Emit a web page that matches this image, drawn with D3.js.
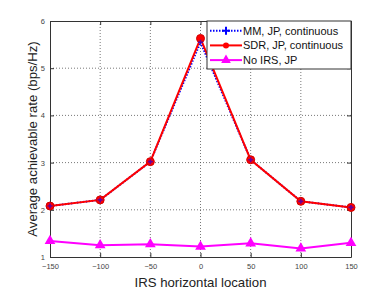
<!DOCTYPE html>
<html>
<head>
<meta charset="utf-8">
<script src="https://d3js.org/d3.v7.min.js"></script>
<style>
  body { margin: 0; background: #fff; }
  text { font-family: "Liberation Sans", Arial, sans-serif; }
</style>
</head>
<body>
<div id="chart"></div>
<script>
// data
var locations = [-150, -100, -50, 0, 50, 100, 150];
var mmRate = [2.08, 2.21, 3.02, 5.55, 3.06, 2.18, 2.05];
var sdrRate = [2.08, 2.21, 3.02, 5.63, 3.06, 2.18, 2.05];
var noIrsRate = [1.34, 1.25, 1.27, 1.22, 1.29, 1.18, 1.30];
var xTicks = [-150, -100, -50, 0, 50, 100, 150];
var yTicks = [1, 2, 3, 4, 5, 6];

var svgWidth = 388;
var svgHeight = 294;
var margin = { top: 21, right: 37, bottom: 37, left: 50 };
var chartWidth = svgWidth - margin.left - margin.right;
var chartHeight = svgHeight - margin.top - margin.bottom;

var svg = d3.select("#chart")
  .append("svg")
  .attr("width", svgWidth)
  .attr("height", svgHeight);

var chartGroup = svg.append("g")
  .attr("transform", `translate(${margin.left}, ${margin.top})`);

var x = d3.scaleLinear().domain([-150, 150]).range([0, chartWidth]);
var y = d3.scaleLinear().domain([1, 6]).range([chartHeight, 0]);

// grid
chartGroup.append("g")
  .selectAll("line")
  .data(xTicks.slice(1, -1))
  .enter().append("line")
  .attr("x1", d => x(d)).attr("x2", d => x(d))
  .attr("y1", 0).attr("y2", chartHeight)
  .attr("stroke", "#555").attr("stroke-width", 0.8)
  .attr("stroke-dasharray", "1,2");

chartGroup.append("g")
  .selectAll("line")
  .data(yTicks.slice(1, -1))
  .enter().append("line")
  .attr("y1", d => y(d)).attr("y2", d => y(d))
  .attr("x1", 0).attr("x2", chartWidth)
  .attr("stroke", "#555").attr("stroke-width", 0.8)
  .attr("stroke-dasharray", "1,2");

// axes (ticks inward)
var bottomAxis = d3.axisBottom(x).tickValues(xTicks).tickFormat(d3.format("d"))
  .tickSizeInner(-4).tickSizeOuter(0).tickPadding(7);
var leftAxis = d3.axisLeft(y).tickValues(yTicks).tickFormat(d3.format("d"))
  .tickSizeInner(-4).tickSizeOuter(0).tickPadding(5);
var topAxis = d3.axisTop(x).tickValues(xTicks).tickSizeInner(-4).tickSizeOuter(0).tickFormat("");
var rightAxis = d3.axisRight(y).tickValues(yTicks).tickSizeInner(-4).tickSizeOuter(0).tickFormat("");

var gx = chartGroup.append("g").attr("transform", `translate(0, ${chartHeight})`).call(bottomAxis);
var gy = chartGroup.append("g").call(leftAxis);
var gt = chartGroup.append("g").call(topAxis);
var gr = chartGroup.append("g").attr("transform", `translate(${chartWidth}, 0)`).call(rightAxis);

[gx, gy, gt, gr].forEach(function(g) {
  g.select(".domain").attr("stroke", "#333");
  g.selectAll(".tick line").attr("stroke", "#333");
  g.selectAll(".tick text").attr("fill", "#444").attr("font-size", "7.5px")
    .attr("font-family", "Liberation Sans, Arial, sans-serif");
});

// lines
var line = d3.line()
  .x((d, i) => x(locations[i]))
  .y(d => y(d));

chartGroup.append("path")
  .datum(noIrsRate)
  .attr("d", line)
  .attr("fill", "none")
  .attr("stroke", "#ff00ff")
  .attr("stroke-width", 2);

chartGroup.append("g")
  .selectAll("path")
  .data(noIrsRate)
  .enter().append("path")
  .attr("d", d3.symbol().type(d3.symbolTriangle).size(50))
  .attr("transform", (d, i) => `translate(${x(locations[i])}, ${y(d)})`)
  .attr("fill", "#ff00ff");

chartGroup.append("path")
  .datum(mmRate)
  .attr("d", line)
  .attr("fill", "none")
  .attr("stroke", "#0000ff")
  .attr("stroke-width", 2)
  .attr("stroke-dasharray", "1.5,1.5");

chartGroup.append("path")
  .datum(sdrRate)
  .attr("d", line)
  .attr("fill", "none")
  .attr("stroke", "#ff0000")
  .attr("stroke-width", 2);

chartGroup.append("g")
  .selectAll("circle")
  .data(sdrRate)
  .enter().append("circle")
  .attr("cx", (d, i) => x(locations[i]))
  .attr("cy", d => y(d))
  .attr("r", 4)
  .attr("fill", "#ff0000")
  .attr("stroke", "#d00000")
  .attr("stroke-width", 1);

chartGroup.append("g")
  .selectAll("path")
  .data(mmRate)
  .enter().append("path")
  .attr("d", d3.symbol().type(d3.symbolCross).size(14))
  .attr("transform", (d, i) => `translate(${x(locations[i])}, ${y(d)})`)
  .attr("fill", "#0000ff")
  .attr("opacity", 0.6);

// legend
var legendItems = [
  { name: "MM, JP, continuous", color: "#0000ff", dash: "1.5,1.5", marker: "plus" },
  { name: "SDR, JP, continuous", color: "#ff0000", dash: null, marker: "circle" },
  { name: "No IRS, JP", color: "#ff00ff", dash: null, marker: "triangle" }
];

var legend = chartGroup.append("g")
  .attr("transform", `translate(${chartWidth - 144}, 0)`);

legend.append("rect")
  .attr("width", 144).attr("height", 48)
  .attr("fill", "#fff").attr("stroke", "#333").attr("stroke-width", 1);

legendItems.forEach(function(item, i) {
  var ly = 9.7 + i * 14.7;
  legend.append("line")
    .attr("x1", 3).attr("x2", 35).attr("y1", ly).attr("y2", ly)
    .attr("stroke", item.color).attr("stroke-width", 2)
    .attr("stroke-dasharray", item.dash);
  if (item.marker === "plus") {
    legend.append("path")
      .attr("d", "M-4,0H4M0,-4V4")
      .attr("transform", `translate(19, ${ly})`)
      .attr("stroke", item.color).attr("stroke-width", 2);
  } else if (item.marker === "circle") {
    legend.append("circle")
      .attr("cx", 19).attr("cy", ly).attr("r", 3)
      .attr("fill", item.color);
  } else {
    legend.append("path")
      .attr("d", d3.symbol().type(d3.symbolTriangle).size(40))
      .attr("transform", `translate(19, ${ly})`)
      .attr("fill", item.color);
  }
  legend.append("text")
    .attr("x", 36).attr("y", ly + 4)
    .attr("font-size", "11px")
    .attr("fill", "#111")
    .text(item.name);
});

// axis labels
chartGroup.append("text")
  .attr("x", chartWidth / 2)
  .attr("y", chartHeight + 30)
  .attr("text-anchor", "middle")
  .attr("font-size", "13.2px")
  .attr("fill", "#222")
  .text("IRS horizontal location");

chartGroup.append("text")
  .attr("transform", "rotate(-90)")
  .attr("x", -chartHeight / 2)
  .attr("y", -13)
  .attr("text-anchor", "middle")
  .attr("font-size", "13.2px")
  .attr("fill", "#222")
  .text("Average achievable rate (bps/Hz)");
</script>
</body>
</html>
